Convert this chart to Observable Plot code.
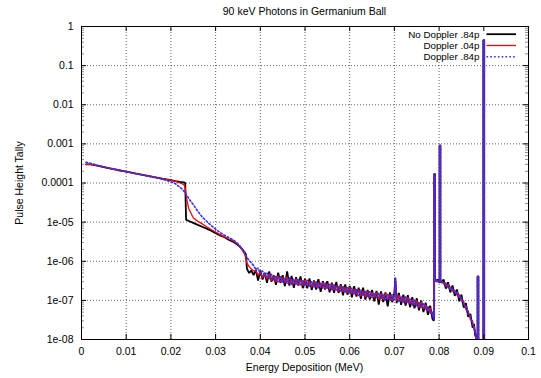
<!DOCTYPE html>
<html><head><meta charset="utf-8">
<script src="https://cdn.jsdelivr.net/npm/d3@7"></script>
<script src="https://cdn.jsdelivr.net/npm/@observablehq/plot@0.6"></script>
<style>html,body{margin:0;padding:0;background:#fff}svg{display:block}</style>
</head><body><div id="chart"></div>
<script>
const chartTitle = "90 keV Photons in Germanium Ball";
const xLabel = "Energy Deposition (MeV)";
const yLabel = "Pulse Height Tally";
const seriesNames = ["No Doppler .84p", "Doppler .04p", "Doppler .84p"];

const xTicks = [0, 0.01, 0.02, 0.03, 0.04, 0.05, 0.06, 0.07, 0.08, 0.09, 0.1];
const xTickLabels = ["0", "0.01", "0.02", "0.03", "0.04", "0.05", "0.06", "0.07", "0.08", "0.09", "0.1"];
const yTicks = [1, 0.1, 0.01, 0.001, 1e-4, 1e-5, 1e-6, 1e-7, 1e-8];
const yTickLabels = ["1", "0.1", "0.01", "0.001", "0.0001", "1e-05", "1e-06", "1e-07", "1e-08"];
const yMinorSteps = [2, 3, 4, 5, 6, 7, 8, 9];

// Energy deposition (MeV)
const energy = [
  0.001, 0.002, 0.003, 0.004, 0.006, 0.008, 0.010, 0.012, 0.014, 0.016,
  0.018, 0.020, 0.021, 0.022, 0.0225, 0.023, 0.0232, 0.0234, 0.0236, 0.024,
  0.025, 0.026, 0.027, 0.028, 0.029, 0.030, 0.031, 0.032, 0.033, 0.034,
  0.035, 0.0355, 0.036, 0.0365, 0.0368, 0.037, 0.0375, 0.038, 0.0385,
  0.0390, 0.0395, 0.0400, 0.0405, 0.0410, 0.0415, 0.0420, 0.0425, 0.0430, 0.0435,
  0.0440, 0.0445, 0.0450, 0.0455, 0.0460, 0.0465, 0.0470, 0.0475, 0.0480, 0.0485,
  0.0490, 0.0495, 0.0500, 0.0505, 0.0510, 0.0515, 0.0520, 0.0525, 0.0530, 0.0535,
  0.0540, 0.0545, 0.0550, 0.0555, 0.0560, 0.0565, 0.0570, 0.0575, 0.0580, 0.0585,
  0.0590, 0.0595, 0.0600, 0.0605, 0.0610, 0.0615, 0.0620, 0.0625, 0.0630, 0.0635,
  0.0640, 0.0645, 0.0650, 0.0655, 0.0660, 0.0665, 0.0670, 0.0675, 0.0680, 0.0685,
  0.0690, 0.0695, 0.0700, 0.0702, 0.0705, 0.0710, 0.0715, 0.0720, 0.0725, 0.0730,
  0.0735, 0.0740, 0.0745, 0.0750, 0.0755, 0.0760, 0.0765, 0.0770, 0.0775, 0.0780, 0.0785,
  0.0788, 0.0789, 0.0789, 0.0791, 0.0791, 0.0794, 0.0797, 0.0800, 0.0801, 0.0801,
  0.0803, 0.0803,
  0.0805, 0.0810, 0.0815, 0.0820, 0.0825, 0.0830, 0.0835, 0.0840, 0.0845, 0.0850,
  0.0855, 0.0860, 0.0865, 0.0870, 0.0875, 0.0878, 0.0881, 0.0883,
  0.0885, 0.0886, 0.0886, 0.0888, 0.0888, 0.0899, 0.0899, 0.0901, 0.0901, 0.0905
];

const noDoppler84 = [
  3.0e-4, 3.0e-4, 2.85e-4, 2.7e-4, 2.4e-4, 2.15e-4, 1.95e-4, 1.75e-4, 1.58e-4, 1.43e-4,
  1.3e-4, 1.18e-4, 1.12e-4, 1.07e-4, 1.05e-4, 1.03e-4, 1.0e-4, 1.15e-5, 1.12e-5, 1.07e-5,
  9.6e-6, 8.5e-6, 7.6e-6, 6.8e-6, 6.0e-6, 5.2e-6, 4.6e-6, 4.1e-6, 3.5e-6, 3.1e-6,
  2.6e-6, 2.3e-6, 2.0e-6, 1.7e-6, 1.5e-6, 6.5e-7, 5.0e-7, 5.8e-7, 4.4e-7,
  6.0e-7, 3.2e-7, 5.8e-7, 3.4e-7, 5.1e-7, 2.8e-7, 5.5e-7, 3.0e-7, 4.4e-7, 2.5e-7,
  5.1e-7, 2.8e-7, 4.4e-7, 2.3e-7, 5.5e-7, 2.4e-7, 4.2e-7, 2.1e-7, 3.9e-7, 2.4e-7,
  4.1e-7, 2.05e-7, 3.6e-7, 2.05e-7, 3.65e-7, 1.85e-7, 3.25e-7, 1.9e-7, 3.5e-7, 1.65e-7,
  3.1e-7, 1.9e-7, 3.1e-7, 1.6e-7, 2.85e-7, 1.55e-7, 2.95e-7, 1.55e-7, 2.6e-7, 1.35e-7,
  2.55e-7, 1.4e-7, 2.35e-7, 1.2e-7, 2.3e-7, 1.25e-7, 2.1e-7, 1.1e-7, 2.1e-7, 1.05e-7,
  1.85e-7, 1.05e-7, 1.85e-7, 0.95e-7, 1.75e-7, 0.78e-7, 1.7e-7, 0.9e-7, 1.6e-7, 0.7e-7,
  1.6e-7, 0.9e-7, 1.55e-7, 3.8e-7, 0.85e-7, 1.55e-7, 0.77e-7, 1.4e-7, 0.74e-7, 1.35e-7,
  0.67e-7, 1.2e-7, 0.63e-7, 1.13e-7, 0.56e-7, 0.99e-7, 0.5e-7, 0.87e-7, 0.43e-7, 0.73e-7, 0.34e-7,
  3.0e-8, 3.5e-8, 1.7e-4, 1.7e-4, 3.6e-7, 3.0e-7, 3.4e-7, 2.9e-7, 2.9e-7, 9.1e-4,
  9.1e-4, 3.5e-7,
  2.8e-7, 3.4e-7, 2.0e-7, 2.9e-7, 1.6e-7, 2.4e-7, 1.3e-7, 1.9e-7, 0.95e-7, 1.4e-7,
  6.5e-8, 8.5e-8, 3.8e-8, 4.5e-8, 2.0e-8, 2.5e-8, 1.2e-8, 1.4e-8,
  1e-9, 1e-9, 4.1e-7, 4.1e-7, 1e-9, 1e-9, 0.45, 0.45, 1e-9, 1e-9
];

const doppler04 = [
  3.0e-4, 3.0e-4, 2.85e-4, 2.7e-4, 2.4e-4, 2.15e-4, 1.95e-4, 1.75e-4, 1.58e-4, 1.43e-4,
  1.3e-4, 1.17e-4, 1.1e-4, 1.0e-4, 9.6e-5, 8.8e-5, 7.5e-5, 5.0e-5, 3.6e-5, 2.2e-5,
  1.3e-5, 1.05e-5, 9.0e-6, 7.6e-6, 6.5e-6, 5.6e-6, 4.8e-6, 4.2e-6, 3.7e-6, 3.3e-6,
  2.7e-6, 2.3e-6, 1.9e-6, 1.5e-6, 1.15e-6, 9.0e-7, 7.3e-7, 6.3e-7, 5.7e-7,
  5.7e-7, 4.3e-7, 5.4e-7, 3.8e-7, 4.9e-7, 3.5e-7, 4.8e-7, 3.2e-7, 4.25e-7, 2.95e-7,
  4.25e-7, 2.95e-7, 3.9e-7, 2.8e-7, 4.05e-7, 2.7e-7, 3.55e-7, 2.6e-7, 3.6e-7, 2.4e-7,
  3.35e-7, 2.4e-7, 3.35e-7, 2.35e-7, 3.1e-7, 2.15e-7, 3.1e-7, 2.15e-7, 2.9e-7, 2.1e-7,
  2.9e-7, 1.95e-7, 2.65e-7, 1.9e-7, 2.65e-7, 1.85e-7, 2.4e-7, 1.7e-7, 2.4e-7, 1.65e-7,
  2.2e-7, 1.55e-7, 2.15e-7, 1.45e-7, 1.95e-7, 1.4e-7, 1.9e-7, 1.3e-7, 1.75e-7, 1.2e-7,
  1.75e-7, 1.2e-7, 1.6e-7, 1.15e-7, 1.6e-7, 1.05e-7, 1.5e-7, 1.05e-7, 1.5e-7, 1.05e-7,
  1.4e-7, 0.98e-7, 1.4e-7, 3.8e-7, 0.98e-7, 1.35e-7, 0.93e-7, 1.23e-7, 0.85e-7, 1.2e-7,
  0.82e-7, 1.05e-7, 0.75e-7, 1.0e-7, 0.66e-7, 0.91e-7, 0.61e-7, 0.77e-7, 0.53e-7, 0.64e-7, 0.41e-7,
  3.5e-8, 4.0e-8, 1.7e-4, 1.7e-4, 3.3e-7, 3.2e-7, 3.0e-7, 3.1e-7, 3.1e-7, 9.1e-4,
  9.1e-4, 3.2e-7,
  3.2e-7, 2.6e-7, 2.8e-7, 2.1e-7, 2.2e-7, 1.7e-7, 1.85e-7, 1.35e-7, 1.4e-7, 0.95e-7,
  0.95e-7, 0.58e-7, 0.55e-7, 0.32e-7, 0.3e-7, 0.18e-7, 0.17e-7, 1.0e-8,
  1e-9, 1e-9, 4.1e-7, 4.1e-7, 1e-9, 1e-9, 0.45, 0.45, 1e-9, 1e-9
];

const doppler84 = [
  3.4e-4, 3.2e-4, 2.95e-4, 2.75e-4, 2.45e-4, 2.18e-4, 1.96e-4, 1.75e-4, 1.57e-4, 1.41e-4,
  1.26e-4, 1.08e-4, 9.6e-5, 7.8e-5, 7.0e-5, 6.0e-5, 5.6e-5, 5.2e-5, 4.8e-5, 4.0e-5,
  2.8e-5, 1.9e-5, 1.35e-5, 1.05e-5, 8.2e-6, 6.6e-6, 5.4e-6, 4.6e-6, 4.0e-6, 3.5e-6,
  2.8e-6, 2.4e-6, 2.0e-6, 1.65e-6, 1.45e-6, 1.25e-6, 1.05e-6, 9.0e-7, 7.8e-7,
  6.1e-7, 6.7e-7, 4.7e-7, 5.75e-7, 4.0e-7, 5.05e-7, 3.5e-7, 4.75e-7, 3.25e-7, 4.15e-7,
  2.9e-7, 4.15e-7, 2.9e-7, 3.8e-7, 2.75e-7, 3.85e-7, 2.55e-7, 3.5e-7, 2.55e-7, 3.55e-7,
  2.45e-7, 3.3e-7, 2.3e-7, 3.3e-7, 2.3e-7, 3.05e-7, 2.2e-7, 3.05e-7, 2.05e-7, 2.8e-7,
  2.05e-7, 2.8e-7, 1.95e-7, 2.6e-7, 1.8e-7, 2.6e-7, 1.8e-7, 2.35e-7, 1.7e-7, 2.35e-7,
  1.55e-7, 2.15e-7, 1.55e-7, 2.1e-7, 1.45e-7, 1.9e-7, 1.3e-7, 1.85e-7, 1.3e-7, 1.7e-7,
  1.2e-7, 1.7e-7, 1.15e-7, 1.55e-7, 1.15e-7, 1.55e-7, 1.1e-7, 1.45e-7, 1.0e-7, 1.45e-7,
  1.0e-7, 1.4e-7, 1.0e-7, 3.8e-7, 1.4e-7, 0.93e-7, 1.25e-7, 0.9e-7, 1.25e-7, 0.85e-7,
  1.1e-7, 0.75e-7, 1.05e-7, 0.71e-7, 0.92e-7, 0.65e-7, 0.86e-7, 0.57e-7, 0.71e-7, 0.46e-7, 0.53e-7,
  3.2e-8, 3.8e-8, 1.7e-4, 1.7e-4, 3.4e-7, 3.0e-7, 3.2e-7, 3.0e-7, 3.0e-7, 9.1e-4,
  9.1e-4, 3.3e-7,
  2.9e-7, 3.0e-7, 2.3e-7, 2.6e-7, 1.85e-7, 2.1e-7, 1.5e-7, 1.7e-7, 1.15e-7, 1.2e-7,
  0.8e-7, 0.75e-7, 0.45e-7, 0.4e-7, 0.24e-7, 0.22e-7, 0.14e-7, 1.1e-8,
  1e-9, 1e-9, 4.1e-7, 4.1e-7, 1e-9, 1e-9, 0.45, 0.45, 1e-9, 1e-9
];

const seriesValues = [noDoppler84, doppler04, doppler84];
const seriesColors = ["#000000", "#ff0000", "#3030ff"];
const seriesWidths = [1.8, 1.3, 1.6];
const seriesDash = [null, null, "1.6,2.2"];

const W = 541, H = 378, mL = 81, mR = 13, mT = 26, mB = 39;
const fw = W - mL - mR, fh = H - mT - mB;
const font = "'Liberation Sans', Arial, Helvetica, sans-serif";

const yMinor = [];
for (let p = -8; p < 0; p++) for (const m of yMinorSteps) yMinor.push(m * Math.pow(10, p));

const rows = seriesValues.map((vals, s) => {
  const n = Math.min(energy.length, vals.length);
  if (vals.length !== energy.length) console.warn("length mismatch", s, vals.length, energy.length);
  return energy.slice(0, n).map((e, i) => ({e, v: vals[i]}));
});

const lineMarks = rows.map((r, s) => Plot.line(r, {
  x: "e", y: "v", stroke: seriesColors[s], strokeWidth: seriesWidths[s],
  strokeDasharray: seriesDash[s] || undefined, clip: true, strokeLinejoin: "miter"
}));

const gridStyle = {stroke: "#000", strokeOpacity: 0.6, strokeDasharray: "1,2", strokeWidth: 1};

const chart = Plot.plot({
  width: W, height: H,
  marginLeft: mL, marginRight: mR, marginTop: mT, marginBottom: mB,
  style: {fontFamily: font, fontSize: "10.5px", color: "#000", background: "#fff"},
  x: {domain: [0, 0.1], axis: null},
  y: {type: "log", domain: [1e-8, 1], axis: null},
  marks: [
    Plot.gridX(xTicks.slice(1, -1), {x: d => d, ...gridStyle}),
    Plot.gridY(yTicks.slice(1, -1), {y: d => d, ...gridStyle}),
    ...lineMarks,
    Plot.frame({stroke: "#000", strokeWidth: 1}),
    Plot.tickX(xTicks, {x: d => d, insetTop: fh - 5, stroke: "#000"}),
    Plot.tickX(xTicks, {x: d => d, insetBottom: fh - 5, stroke: "#000"}),
    Plot.tickY(yTicks, {y: d => d, insetRight: fw - 5, stroke: "#000"}),
    Plot.tickY(yTicks, {y: d => d, insetLeft: fw - 5, stroke: "#000"}),
    Plot.tickY(yMinor, {y: d => d, insetRight: fw - 3, stroke: "#000", strokeOpacity: 0.45}),
    Plot.tickY(yMinor, {y: d => d, insetLeft: fw - 3, stroke: "#000", strokeOpacity: 0.45}),
    Plot.axisX({ticks: xTicks, tickFormat: d => xTickLabels[xTicks.indexOf(d)], tickSize: 0, tickPadding: 8, label: null}),
    Plot.axisY({ticks: yTicks, tickFormat: d => yTickLabels[yTicks.indexOf(d)], tickSize: 0, tickPadding: 8, label: null})
  ]
});

document.getElementById("chart").appendChild(chart);

const svg = d3.select(chart);
// legend background (behind data lines, above grid)
const firstLine = chart.querySelector('g[aria-label="line"]');
const bg = document.createElementNS("http://www.w3.org/2000/svg", "rect");
bg.setAttribute("x", 399); bg.setAttribute("y", mT + 1);
bg.setAttribute("width", W - mR - 400); bg.setAttribute("height", 35);
bg.setAttribute("fill", "#fff");
chart.insertBefore(bg, firstLine);

svg.append("text").attr("x", mL + fw / 2).attr("y", 14.5)
  .attr("text-anchor", "middle").attr("font-family", font).attr("font-size", 10.5).attr("fill", "#000")
  .text(chartTitle);
svg.append("text").attr("x", mL + fw / 2).attr("y", 371)
  .attr("text-anchor", "middle").attr("font-family", font).attr("font-size", 10.5).attr("fill", "#000")
  .text(xLabel);
svg.append("text").attr("transform", `translate(23,${mT + fh / 2 + 0.5}) rotate(-90)`)
  .attr("text-anchor", "middle").attr("font-family", font).attr("font-size", 10.5).attr("fill", "#000")
  .text(yLabel);

const leg = svg.append("g").attr("font-family", font).attr("font-size", 9.8);
seriesNames.forEach((name, i) => {
  const y = 34.2 + i * 11.3;
  leg.append("text").attr("x", 479.5).attr("y", y + 3.4).attr("text-anchor", "end").attr("fill", "#000").text(name);
  leg.append("line").attr("x1", 486.5).attr("x2", 516).attr("y1", y).attr("y2", y)
    .attr("stroke", seriesColors[i]).attr("stroke-width", seriesWidths[i])
    .attr("stroke-dasharray", seriesDash[i] || null);
});
</script>
</body></html>
